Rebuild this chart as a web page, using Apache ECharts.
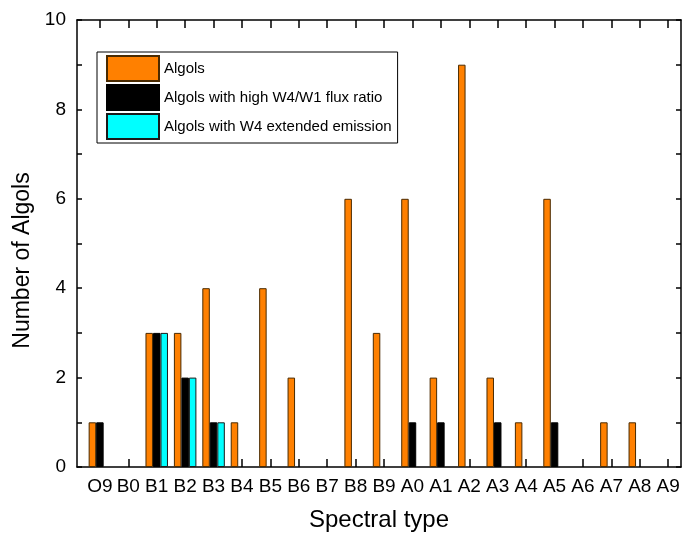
<!DOCTYPE html>
<html><head><meta charset="utf-8">
<script src="https://cdn.jsdelivr.net/npm/echarts@6/dist/echarts.min.js"></script>
<style>html,body{margin:0;padding:0;background:#fff}#c{width:682px;height:533px}</style>
</head><body><div id="c"></div>
<script>
const categories = ['O9','B0','B1','B2','B3','B4','B5','B6','B7','B8','B9','A0','A1','A2','A3','A4','A5','A6','A7','A8','A9'];
const algols      = [1,0,3,3,4,1,4,2,0,6,3,6,2,9,2,1,6,0,1,1,0];
const highRatio   = [1,0,3,2,1,0,0,0,0,0,0,1,1,0,1,0,1,0,0,0,0];
const extEmission = [0,0,3,2,1,0,0,0,0,0,0,0,0,0,0,0,0,0,0,0,0];

const idx = categories.map((c,i)=>i);
const toData = arr => arr.map((v,i)=>[i,v]).filter(d=>d[1]>0);
const font = 'Liberation Sans, Arial, sans-serif';

const chart = echarts.init(document.getElementById('c'), null, {renderer:'canvas'});
const axisLineStyle = {color:'#000', width:1.5};
const tickStyle = {color:'#000', width:1.5};
const barBase = {type:'bar', barWidth:7.5, barGap:'0%', xAxisIndex:0, yAxisIndex:0};
chart.setOption({
  animation:false,
  backgroundColor:'#fff',
  grid:{left:77, right:1, top:20, bottom:66, containLabel:false, outerBoundsMode:'none'},
  legend:{
    orient:'vertical', left:97, top:52,
    padding:[3,6,3,9], itemGap:2, itemWidth:52, itemHeight:25,
    borderColor:'#000', borderWidth:1, borderRadius:0,
    icon:'rect',
    textStyle:{fontFamily:font, fontSize:15, color:'#000'},
    data:['Algols','Algols with high W4/W1 flux ratio','Algols with W4 extended emission']
  },
  xAxis:[{
    type:'value', min:-0.806, max:20.45, position:'bottom',
    name:'Spectral type', nameLocation:'middle', nameGap:41,
    nameTextStyle:{fontFamily:font, fontSize:24, color:'#000'},
    axisLine:{show:true, onZero:false, lineStyle:axisLineStyle},
    axisTick:{show:true, inside:true, length:8, lineStyle:tickStyle, customValues:idx},
    axisLabel:{fontFamily:font, fontSize:19, color:'#000', margin:10, customValues:idx,
      formatter:v=>categories[Math.round(v)] ?? ''},
    splitLine:{show:false}
  },{
    type:'value', min:-0.806, max:20.45, position:'top',
    axisLine:{show:true, onZero:false, lineStyle:axisLineStyle},
    axisTick:{show:true, inside:true, length:8, lineStyle:tickStyle, customValues:idx},
    axisLabel:{show:false, customValues:idx}, splitLine:{show:false}
  }],
  yAxis:[{
    type:'value', min:0, max:10, interval:1, position:'left',
    name:'Number of Algols', nameLocation:'middle', nameGap:43,
    nameTextStyle:{fontFamily:font, fontSize:23, color:'#000', padding:[0,34,0,0]},
    axisLine:{show:true, onZero:false, lineStyle:axisLineStyle},
    axisTick:{show:true, inside:true, length:5, lineStyle:tickStyle},
    axisLabel:{fontFamily:font, fontSize:19, color:'#000', margin:11,
      formatter:v=>(v%2===0? String(v):'')},
    splitLine:{show:false}
  },{
    type:'value', min:0, max:10, interval:1, position:'right',
    axisLine:{show:true, onZero:false, lineStyle:axisLineStyle},
    axisTick:{show:true, inside:true, length:5, lineStyle:tickStyle},
    axisLabel:{show:false}, splitLine:{show:false}
  }],
  series:[
    Object.assign({}, barBase, {name:'Algols', data:toData(algols),
      itemStyle:{color:'#FF8000', borderColor:'#4a2a00', borderWidth:1}}),
    Object.assign({}, barBase, {name:'Algols with high W4/W1 flux ratio', data:toData(highRatio),
      itemStyle:{color:'#000000', borderColor:'#000', borderWidth:1}}),
    Object.assign({}, barBase, {name:'Algols with W4 extended emission', data:toData(extEmission),
      itemStyle:{color:'#00FFFF', borderColor:'#1a1a1a', borderWidth:1}}),
    {type:'scatter', name:'_top', xAxisIndex:1, yAxisIndex:1, data:[[0,0]], symbolSize:0, silent:true,
      itemStyle:{opacity:0}, tooltip:{show:false}}
  ]
});
</script></body></html>
